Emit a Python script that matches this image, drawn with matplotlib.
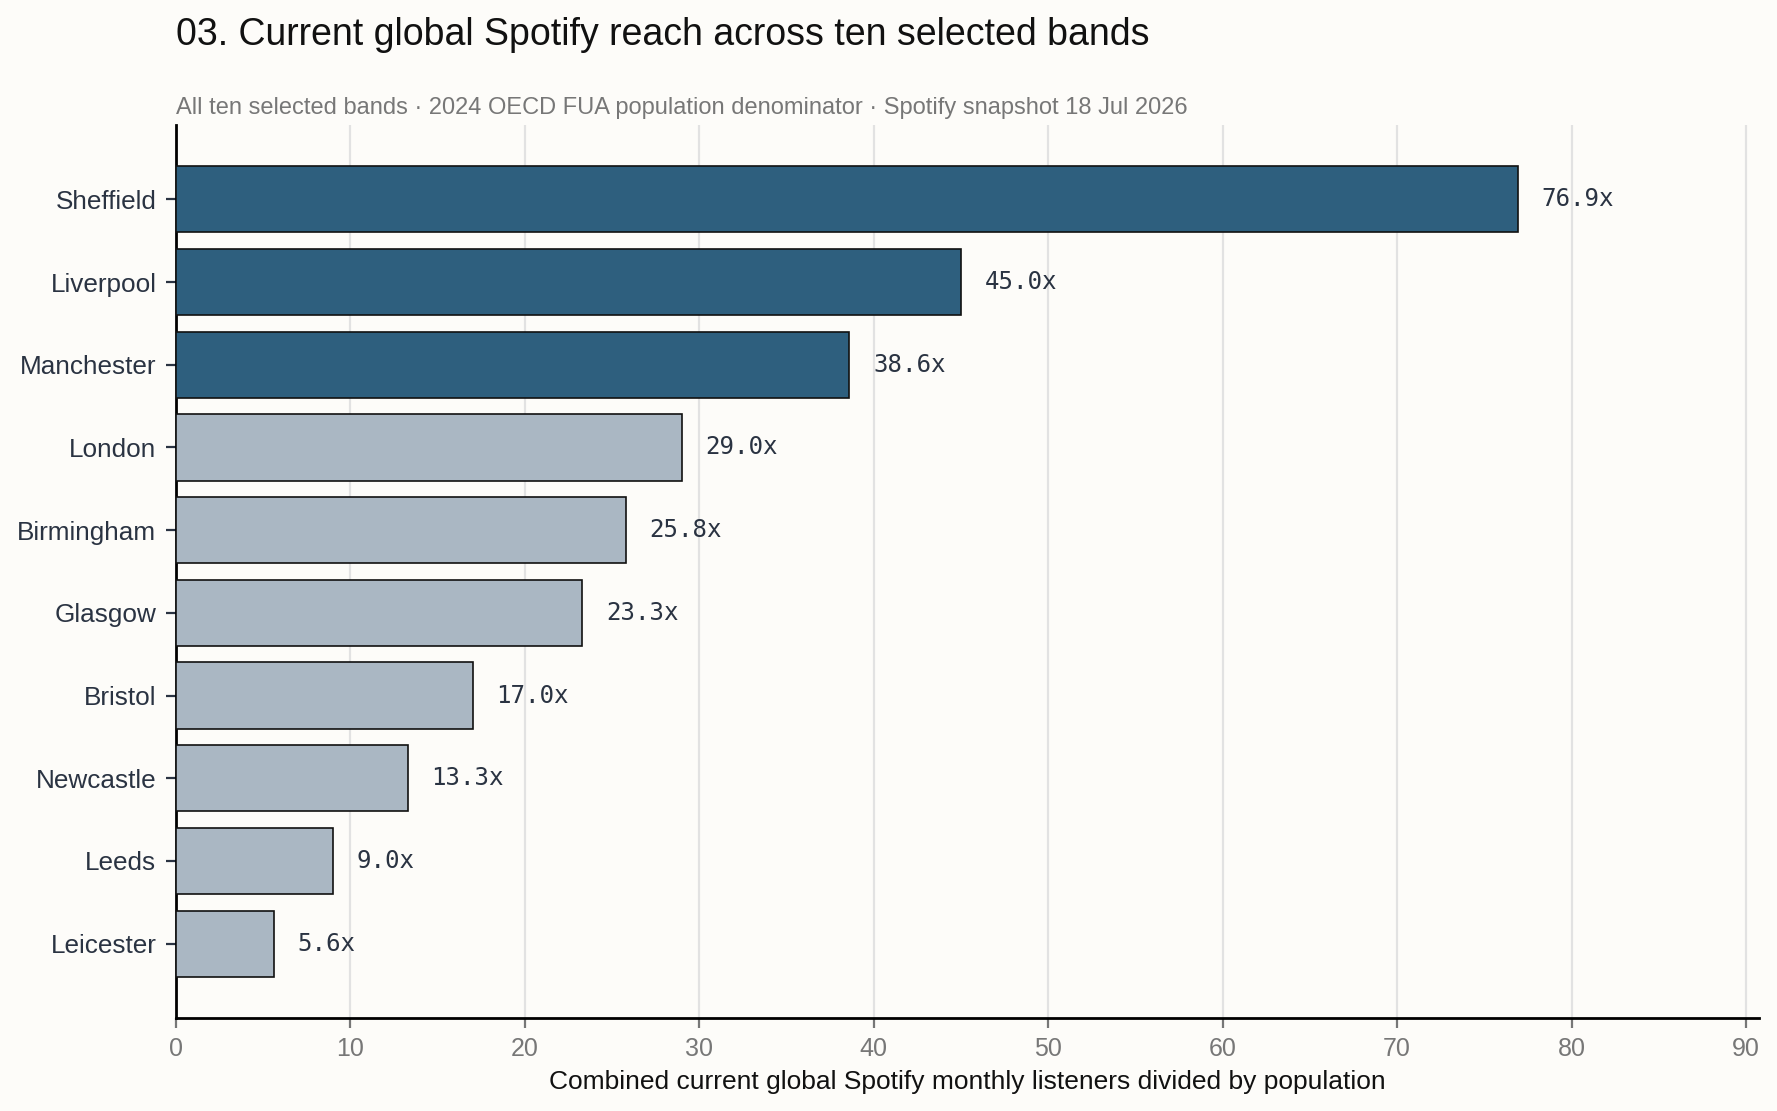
import numpy as np
import matplotlib
matplotlib.use("Agg")
import matplotlib.pyplot as plt

# chart data
cities = ["Sheffield", "Liverpool", "Manchester", "London", "Birmingham",
          "Glasgow", "Bristol", "Newcastle", "Leeds", "Leicester"]
reach = [76.9, 45.0, 38.6, 29.0, 25.8, 23.3, 17.0, 13.3, 9.0, 5.6]
highlight = [True, True, True, False, False, False, False, False, False, False]

TITLE = "03. Current global Spotify reach across ten selected bands"
SUBTITLE = ("All ten selected bands \u00b7 2024 OECD FUA population denominator "
            "\u00b7 Spotify snapshot 18 Jul 2026")
XLABEL = "Combined current global Spotify monthly listeners divided by population"

BG = "#fdfcf9"
DARK = "#2e5f7e"
LIGHT = "#aab7c3"
INK = "#2a3342"

plt.rcParams["font.family"] = ["Liberation Sans", "DejaVu Sans"]

fig = plt.figure(figsize=(8.885, 5.555), dpi=200, facecolor=BG)
ax = fig.add_axes([0.099, 0.0837, 0.8909, 0.8038])
ax.set_facecolor(BG)

y = np.arange(len(cities))
colors = [DARK if h else LIGHT for h in highlight]
ax.barh(y, reach, height=0.8, color=colors, edgecolor="#111111",
        linewidth=0.6, zorder=3)

for yi, v in zip(y, reach):
    ax.annotate(f"{v:.1f}x", xy=(v, yi), xytext=(8.5, 0),
                textcoords="offset points", va="center", ha="left",
                fontsize=8.7, family="DejaVu Sans Mono", color=INK, zorder=4)

ax.set_yticks(y)
ax.set_yticklabels(cities, fontsize=9.4, color=INK)
ax.set_ylim(len(cities) - 0.1, -0.9)
ax.set_xlim(0, max(reach) * 1.18)
ax.set_xticks(np.arange(0, 91, 10))
ax.tick_params(axis="x", labelsize=9, colors="#777777", length=3.5, width=0.8)
ax.tick_params(axis="y", colors=INK, length=3.5, width=0.8)
for lab in ax.get_xticklabels():
    lab.set_color("#777777")

ax.grid(axis="x", color="#e2e2e2", linewidth=0.8, zorder=0)
ax.set_axisbelow(True)
for s in ["top", "right"]:
    ax.spines[s].set_visible(False)
for s in ["left", "bottom"]:
    ax.spines[s].set_color("black")
    ax.spines[s].set_linewidth(1.0)

ax.set_xlabel(XLABEL, fontsize=9.5, color="#111111", labelpad=3)

fig.text(0.099, 0.9685, TITLE, fontsize=13.5, color="#111111",
         ha="left", va="center")
fig.text(0.099, 0.9025, SUBTITLE, fontsize=8.5, color="#777777",
         ha="left", va="center")

fig.savefig("out.png", dpi=200, facecolor=BG)
